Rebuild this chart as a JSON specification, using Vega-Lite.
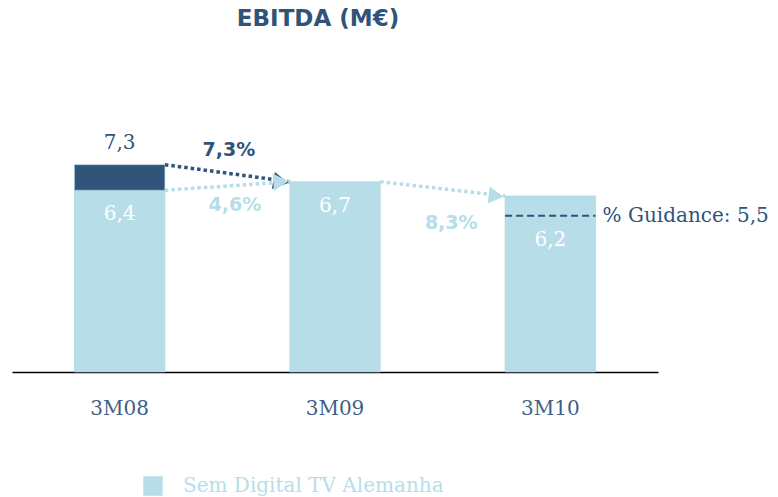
{
  "$schema": "https://vega.github.io/schema/vega-lite/v6.json",
  "width": 646,
  "height": 284,
  "autosize": "none",
  "padding": {"left": 12, "top": 88, "right": 120, "bottom": 125},
  "background": "white",
  "title": {
    "text": "EBITDA (M€)",
    "font": "DejaVu Sans",
    "fontSize": 23,
    "fontWeight": "bold",
    "color": "#2F5379",
    "anchor": "middle",
    "frame": "group",
    "offset": 57,
    "dx": -17
  },
  "config": {
    "view": {"stroke": null},
    "locale": {"number": {"decimal": ",", "thousands": ".", "grouping": [3], "currency": ["", " €"]}},
    "font": "DejaVu Serif"
  },
  "datasets": {
    "bars": [
      {"period": "3M08", "segment": "Sem  Digital TV Alemanha", "value": 6.4},
      {"period": "3M08", "segment": "Digital TV Alemanha", "value": 0.9},
      {"period": "3M09", "segment": "Sem  Digital TV Alemanha", "value": 6.7},
      {"period": "3M10", "segment": "Sem  Digital TV Alemanha", "value": 6.2}
    ],
    "totals": [
      {"period": "3M08", "total": 7.3}
    ],
    "arrows": [
      {"name": "total", "from": "3M08", "to": "3M09", "start": 7.3, "end": 6.7, "segment": "Digital TV Alemanha", "pct": "7,3%"},
      {"name": "sem1", "from": "3M08", "to": "3M09", "start": 6.4, "end": 6.7, "segment": "Sem  Digital TV Alemanha", "pct": "4,6%"},
      {"name": "sem2", "from": "3M09", "to": "3M10", "start": 6.7, "end": 6.2, "segment": "Sem  Digital TV Alemanha", "pct": "8,3%"}
    ],
    "guidance": [
      {"period": "3M10", "value": 5.5, "label": "% Guidance: 5,5"}
    ]
  },
  "encoding": {
    "x": {
      "field": "period",
      "type": "nominal",
      "scale": {"domain": ["3M08", "3M09", "3M10"], "paddingInner": 0.58, "paddingOuter": 0.29},
      "axis": {
        "title": null,
        "labelAngle": 0,
        "labelFont": "DejaVu Serif",
        "labelFontSize": 20,
        "labelColor": "#3E5F86",
        "labelPadding": 26,
        "ticks": false,
        "domainColor": "#000000",
        "domainWidth": 1.5,
        "grid": false
      }
    }
  },
  "layer": [
    {
      "data": {"name": "bars"},
      "mark": {"type": "bar", "stroke": "#A9D2DE", "strokeWidth": 0.6},
      "encoding": {
        "y": {"field": "value", "type": "quantitative", "stack": "zero", "scale": {"domain": [0, 10], "nice": false}, "axis": null},
        "color": {
          "field": "segment",
          "type": "nominal",
          "scale": {"domain": ["Sem  Digital TV Alemanha", "Digital TV Alemanha"], "range": ["#B7DDE8", "#30547A"]},
          "legend": {
            "values": ["Sem  Digital TV Alemanha"],
            "title": null,
            "orient": "none",
            "legendX": 131,
            "legendY": 388,
            "symbolType": "square",
            "symbolSize": 380,
            "symbolStrokeWidth": 0,
            "labelFont": "DejaVu Serif",
            "labelFontSize": 20,
            "labelColor": "#B7DDE8",
            "labelOffset": 20,
            "labelLimit": 500
          }
        },
        "order": {"field": "segment", "sort": "descending"}
      }
    },
    {
      "data": {"name": "totals"},
      "mark": {"type": "text", "font": "DejaVu Serif", "fontSize": 20, "color": "#2F5379", "baseline": "middle", "dy": -22},
      "encoding": {
        "y": {"field": "total", "type": "quantitative"},
        "text": {"field": "total", "type": "quantitative", "format": ".1f"}
      }
    },
    {
      "data": {"name": "bars"},
      "transform": [{"filter": "datum.segment === 'Sem  Digital TV Alemanha' && datum.period !== '3M10'"}],
      "mark": {"type": "text", "font": "DejaVu Serif", "fontSize": 20, "color": "#FFFFFF", "baseline": "middle", "dy": 24},
      "encoding": {
        "y": {"field": "value", "type": "quantitative"},
        "text": {"field": "value", "type": "quantitative", "format": ".1f"}
      }
    },
    {
      "data": {"name": "bars"},
      "transform": [{"filter": "datum.period === '3M10'"}],
      "mark": {"type": "text", "font": "DejaVu Serif", "fontSize": 20, "color": "#FFFFFF", "baseline": "middle", "dy": 44},
      "encoding": {
        "y": {"field": "value", "type": "quantitative"},
        "text": {"field": "value", "type": "quantitative", "format": ".1f"}
      }
    },
    {
      "data": {"name": "arrows"},
      "mark": {"type": "rule", "strokeWidth": 3.5, "strokeDash": [3.5, 3]},
      "encoding": {
        "x": {"field": "from", "type": "nominal", "bandPosition": 1},
        "x2": {"field": "to", "bandPosition": 0},
        "y": {"field": "start", "type": "quantitative"},
        "y2": {"field": "end"},
        "color": {"field": "segment", "type": "nominal"}
      }
    },
    {
      "data": {"name": "arrows"},
      "transform": [{"filter": "datum.name === 'total'"}],
      "mark": {"type": "point", "shape": "triangle-right", "filled": true, "opacity": 1, "size": 300, "angle": 10, "xOffset": -9},
      "encoding": {
        "x": {"field": "to", "type": "nominal", "bandPosition": 0},
        "y": {"field": "end", "type": "quantitative"},
        "color": {"field": "segment", "type": "nominal"}
      }
    },
    {
      "data": {"name": "arrows"},
      "transform": [{"filter": "datum.name === 'sem1'"}],
      "mark": {"type": "point", "shape": "triangle-right", "filled": true, "opacity": 1, "size": 300, "angle": -4, "xOffset": -9},
      "encoding": {
        "x": {"field": "to", "type": "nominal", "bandPosition": 0},
        "y": {"field": "end", "type": "quantitative"},
        "color": {"field": "segment", "type": "nominal"}
      }
    },
    {
      "data": {"name": "arrows"},
      "transform": [{"filter": "datum.name === 'sem2'"}],
      "mark": {"type": "point", "shape": "triangle-right", "filled": true, "opacity": 1, "size": 300, "angle": 7, "xOffset": -9},
      "encoding": {
        "x": {"field": "to", "type": "nominal", "bandPosition": 0},
        "y": {"field": "end", "type": "quantitative"},
        "color": {"field": "segment", "type": "nominal"}
      }
    },
    {
      "data": {"name": "arrows"},
      "transform": [{"filter": "datum.name === 'total'"}],
      "mark": {"type": "text", "font": "DejaVu Sans", "fontWeight": "bold", "fontSize": 19, "baseline": "middle", "align": "center", "dx": 64, "dy": -15},
      "encoding": {
        "x": {"field": "from", "type": "nominal", "bandPosition": 1},
        "y": {"field": "start", "type": "quantitative"},
        "text": {"field": "pct"},
        "color": {"field": "segment", "type": "nominal"}
      }
    },
    {
      "data": {"name": "arrows"},
      "transform": [{"filter": "datum.name === 'sem1'"}],
      "mark": {"type": "text", "font": "DejaVu Sans", "fontWeight": "bold", "fontSize": 19, "baseline": "middle", "align": "center", "dx": 70, "dy": 15},
      "encoding": {
        "x": {"field": "from", "type": "nominal", "bandPosition": 1},
        "y": {"field": "start", "type": "quantitative"},
        "text": {"field": "pct"},
        "color": {"field": "segment", "type": "nominal"}
      }
    },
    {
      "data": {"name": "arrows"},
      "transform": [{"filter": "datum.name === 'sem2'"}],
      "mark": {"type": "text", "font": "DejaVu Sans", "fontWeight": "bold", "fontSize": 19, "baseline": "middle", "align": "center", "dx": 71, "dy": 41},
      "encoding": {
        "x": {"field": "from", "type": "nominal", "bandPosition": 1},
        "y": {"field": "start", "type": "quantitative"},
        "text": {"field": "pct"},
        "color": {"field": "segment", "type": "nominal"}
      }
    },
    {
      "data": {"name": "guidance"},
      "mark": {"type": "rule", "color": "#2F5379", "strokeWidth": 2, "strokeDash": [7, 4]},
      "encoding": {
        "x": {"field": "period", "type": "nominal", "bandPosition": 0},
        "x2": {"field": "period", "bandPosition": 1},
        "y": {"field": "value", "type": "quantitative"}
      }
    },
    {
      "data": {"name": "guidance"},
      "mark": {"type": "text", "font": "DejaVu Serif", "fontSize": 20, "color": "#2F5379", "align": "left", "baseline": "middle", "dx": 7},
      "encoding": {
        "x": {"field": "period", "type": "nominal", "bandPosition": 1},
        "y": {"field": "value", "type": "quantitative"},
        "text": {"field": "label"}
      }
    }
  ]
}
